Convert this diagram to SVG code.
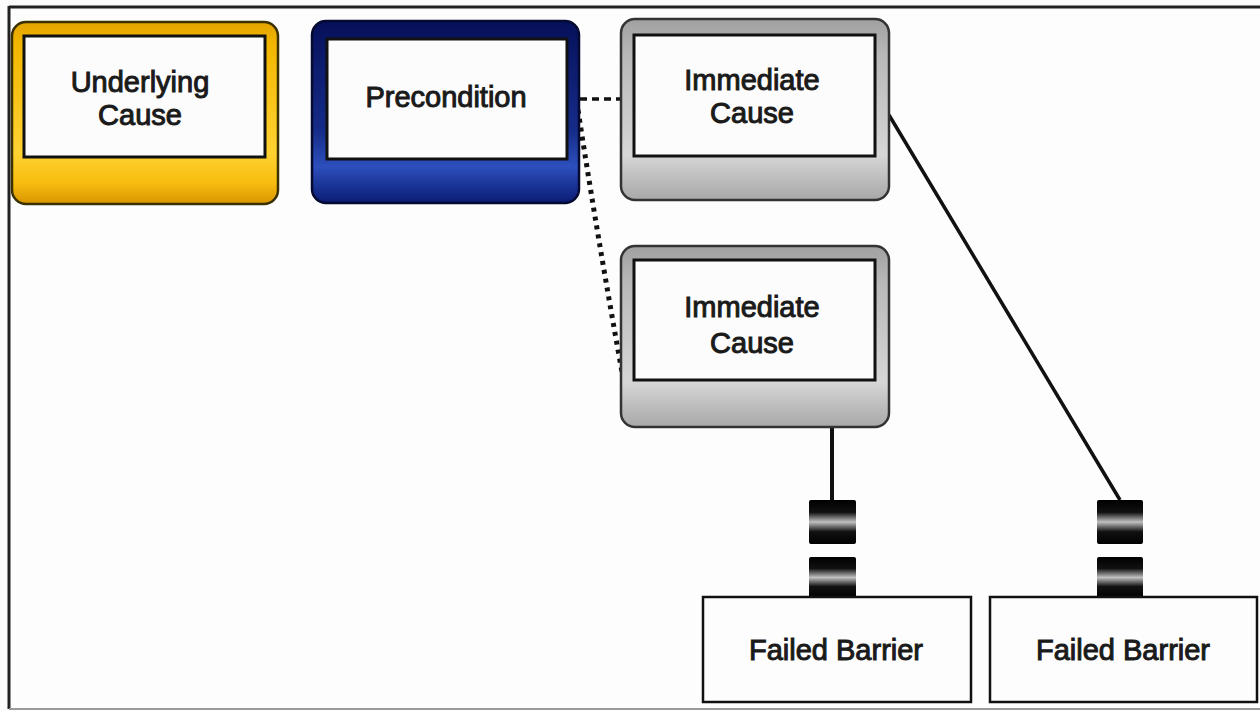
<svg xmlns="http://www.w3.org/2000/svg" width="1260" height="711" viewBox="0 0 1260 711">
  <style>
    .lbl { font-family: "Liberation Sans", Arial, sans-serif; font-size: 29px; fill: #1a1a1a; text-anchor: middle; stroke: #1a1a1a; stroke-width: 1px; }
    .inner { fill: #fcfcfc; stroke: #111; stroke-width: 3; }
    .plain { fill: #fdfdfd; stroke: #111; stroke-width: 2.5; }
    .conn { fill: none; stroke: #111; }
    .gate { fill: url(#gGate); }
  </style>
  <defs>
    <linearGradient id="gYellow" x1="0" y1="0" x2="0" y2="1">
      <stop offset="0" stop-color="#e2a300"/>
      <stop offset="0.12" stop-color="#f2b600"/>
      <stop offset="0.72" stop-color="#ffd232"/>
      <stop offset="0.88" stop-color="#f8bd10"/>
      <stop offset="1" stop-color="#d89600"/>
    </linearGradient>
    <linearGradient id="gBlue" x1="0" y1="0" x2="0" y2="1">
      <stop offset="0" stop-color="#06105a"/>
      <stop offset="0.6" stop-color="#152c88"/>
      <stop offset="0.8" stop-color="#2c4fbc"/>
      <stop offset="1" stop-color="#0a1b74"/>
    </linearGradient>
    <linearGradient id="gGrey" x1="0" y1="0" x2="0" y2="1">
      <stop offset="0" stop-color="#a0a0a0"/>
      <stop offset="0.2" stop-color="#b8b8b8"/>
      <stop offset="0.75" stop-color="#d6d6d6"/>
      <stop offset="1" stop-color="#a8a8a8"/>
    </linearGradient>
    <linearGradient id="gGate" x1="0" y1="0" x2="0" y2="1">
      <stop offset="0" stop-color="#000"/>
      <stop offset="0.28" stop-color="#111"/>
      <stop offset="0.5" stop-color="#c0c0c0"/>
      <stop offset="0.72" stop-color="#111"/>
      <stop offset="1" stop-color="#000"/>
    </linearGradient>
  </defs>

  <rect x="0" y="0" width="1260" height="711" fill="#fdfdfd"/>
  <g id="frame">
    <line x1="9" y1="7" x2="1260" y2="7" stroke="#222" stroke-width="3"/>
    <line x1="9" y1="6" x2="9" y2="709" stroke="#222" stroke-width="3"/>
    <line x1="9" y1="709" x2="1260" y2="709" stroke="#9a9a9a" stroke-width="2"/>
  </g>

  <g id="connectors">
    <path class="conn" d="M580 99 L621 99" stroke-width="3.5" stroke-dasharray="7 5"/>
    <path class="conn" d="M578 110 Q 598 240 622 372" stroke-width="5" stroke-dasharray="4 5"/>
    <path class="conn" d="M889 115 L1120 500" stroke-width="3.5"/>
    <path class="conn" d="M832 427 L832 500" stroke-width="4"/>
  </g>

  <g id="underlying-cause">
    <rect x="12" y="22" width="266" height="182" rx="14" fill="url(#gYellow)" stroke="#3a3000" stroke-width="2.5"/>
    <rect class="inner" x="24" y="36" width="241" height="121"/>
    <text class="lbl" x="140" y="92">Underlying</text>
    <text class="lbl" x="140" y="125">Cause</text>
  </g>

  <g id="precondition">
    <rect x="312" y="21" width="267" height="182" rx="14" fill="url(#gBlue)" stroke="#040a30" stroke-width="2.5"/>
    <rect class="inner" x="327" y="39" width="240" height="120"/>
    <text class="lbl" x="446" y="107">Precondition</text>
  </g>

  <g id="immediate-cause-1">
    <rect x="621" y="19" width="268" height="181" rx="14" fill="url(#gGrey)" stroke="#333" stroke-width="2.5"/>
    <rect class="inner" x="634" y="35" width="241" height="121"/>
    <text class="lbl" x="752" y="90">Immediate</text>
    <text class="lbl" x="752" y="123">Cause</text>
  </g>

  <g id="immediate-cause-2">
    <rect x="621" y="246" width="268" height="181" rx="14" fill="url(#gGrey)" stroke="#333" stroke-width="2.5"/>
    <rect class="inner" x="634" y="260" width="241" height="120"/>
    <text class="lbl" x="752" y="317">Immediate</text>
    <text class="lbl" x="752" y="353">Cause</text>
  </g>

  <g id="barrier-gate-left">
    <rect class="gate" x="809" y="500" width="47" height="44" rx="2"/>
    <rect class="gate" x="809" y="557" width="47" height="41" rx="2"/>
  </g>

  <g id="barrier-gate-right">
    <rect class="gate" x="1097" y="500" width="46" height="44" rx="2"/>
    <rect class="gate" x="1097" y="557" width="46" height="41" rx="2"/>
  </g>

  <g id="failed-barrier-1">
    <rect class="plain" x="703" y="597" width="268" height="105"/>
    <text class="lbl" x="836" y="660">Failed Barrier</text>
  </g>

  <g id="failed-barrier-2">
    <rect class="plain" x="990" y="597" width="267" height="105"/>
    <text class="lbl" x="1123" y="660">Failed Barrier</text>
  </g>
</svg>
